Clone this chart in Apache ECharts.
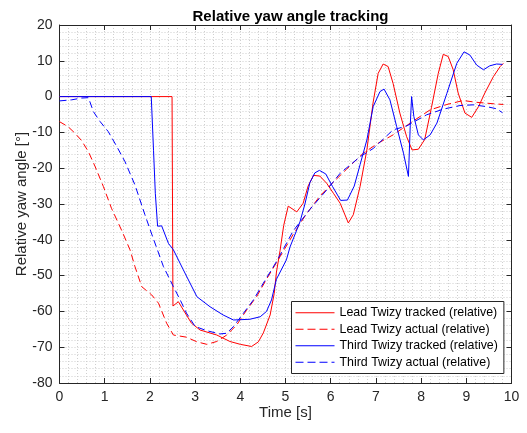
<!DOCTYPE html>
<html><head><meta charset="utf-8">
<script src="https://cdn.jsdelivr.net/npm/echarts@6/dist/echarts.min.js"></script>
<style>html,body{margin:0;padding:0;background:#fff}#c{width:527px;height:433px}</style>
</head><body><div id="c"></div>
<script>
const seriesNames = ['Lead Twizy tracked (relative)','Lead Twizy actual (relative)','Third Twizy tracked (relative)','Third Twizy actual (relative)'];

const leadTrackedT = [0,2.49,2.51,2.63,2.74,2.92,3.11,3.48,3.77,4.0,4.25,4.40,4.51,4.66,4.75,4.80,4.88,4.96,5.06,5.25,5.39,5.50,5.62,5.76,5.91,6.06,6.21,6.39,6.50,6.65,6.80,6.94,7.05,7.16,7.27,7.38,7.53,7.68,7.80,7.94,8.08,8.23,8.38,8.49,8.60,8.71,8.82,8.97,9.12,9.27,9.41,9.60,9.75,9.82];
const leadTrackedY = [0,0,-58.5,-57.3,-59.6,-63.3,-65.2,-66.6,-68.4,-69.2,-69.8,-68.5,-66,-61,-55,-49,-43,-36,-30.6,-32.2,-29.8,-25,-22,-22.2,-24.2,-27,-29.8,-35.3,-33,-25.1,-14.9,-1.5,6.5,9.1,8.4,3.7,-4.6,-11.2,-14.9,-14.7,-12,-3,6.5,11.8,11.2,7.5,1,-4.6,-5.8,-2.8,1,5.6,8.4,9.3];

const leadActualT = [0,0.19,0.34,0.49,0.64,0.79,0.97,1.15,1.38,1.56,1.67,1.82,2.04,2.19,2.37,2.52,2.81,3.04,3.26,3.48,3.70,3.92,4.14,4.36,4.58,4.88,5.17,5.45,5.76,6.05,6.35,6.72,7.05,7.38,7.83,8.20,8.57,8.93,9.23,9.60,9.82];
const leadActualY = [-7,-8.4,-10.2,-12.3,-15.4,-19.6,-25.1,-31.2,-37.5,-42.8,-47.5,-53.1,-55.4,-57.7,-63.3,-66.6,-67.2,-68.5,-69.2,-68.4,-66.6,-63.8,-59.6,-55.9,-51,-44.7,-38.5,-33,-27.8,-24,-20.3,-15.8,-13,-10.7,-6.8,-3.7,-2.2,-1.1,-1.6,-2,-2.2];

const thirdTrackedT = [0,2.03,2.08,2.12,2.17,2.26,2.41,2.52,2.74,3.04,3.33,3.62,3.85,4.21,4.44,4.58,4.69,4.80,5.02,5.10,5.32,5.43,5.54,5.65,5.75,5.89,6.04,6.22,6.37,6.52,6.65,6.80,6.94,7.09,7.18,7.31,7.46,7.61,7.72,7.76,7.79,7.84,7.94,8.05,8.20,8.35,8.57,8.79,8.95,9.08,9.23,9.38,9.52,9.67,9.80];
const thirdTrackedY = [0,0,-15,-27,-36.2,-36.1,-41,-42.8,-48.4,-55.9,-58.7,-61,-62.4,-62.2,-61.5,-60,-56.8,-51,-45.6,-42,-35,-30,-24,-21.3,-20.6,-21.6,-25.1,-29,-28.9,-25,-19,-12.1,-2.8,1.4,2.1,-0.9,-8.4,-15.8,-22.3,-8,0,-5.6,-10.7,-12.1,-10.7,-7.4,0.9,9.3,12.5,11.6,8.8,7.5,8.6,9.1,9.0];

const thirdActualT = [0,0.27,0.49,0.64,0.75,0.90,1.08,1.27,1.45,1.67,1.89,2.04,2.30,2.52,2.67,2.81,3.0,3.26,3.55,3.70,3.85,4.07,4.29,4.51,4.80,5.17,5.54,5.91,6.21,6.65,6.94,7.38,7.68,8.12,8.49,8.86,9.15,9.45,9.67,9.80];
const thirdActualY = [-1.2,-0.9,-0.4,-0.3,-4.2,-7,-9.8,-14,-18.2,-24.7,-33,-38.4,-47.5,-53.1,-56.8,-60.5,-64.2,-65.4,-66.3,-66.1,-64.2,-60.5,-56.8,-52.1,-46.1,-37.5,-31.5,-26.1,-21.4,-16.8,-14.5,-9.3,-8.2,-5.1,-3.5,-2.5,-2.3,-2.8,-3.4,-4.5];

const xTicks = {min:0, max:10, interval:1};
const yTicks = {min:-80, max:20, interval:10};

const zip = (a,b)=>a.map((v,i)=>[v,b[i]]);
const FONT = '"Liberation Sans", Arial, Helvetica, sans-serif';
const AX = '#262626';
const gridLine = {show:true, lineStyle:{color:'#cfcfcf', width:1, type:[1,2]}};

const chart = echarts.init(document.getElementById('c'), null, {renderer:'canvas'});
function valAxis(pos, rng, showLabels, name, extra){
  return Object.assign({
    type:'value', position:pos, min:rng.min, max:rng.max, interval:rng.interval,
    axisLine:{show:true, onZero:false, lineStyle:{color:AX, width:1}},
    axisTick:{show:true, inside:true, length:5, lineStyle:{color:AX}},
    axisLabel:{show:showLabels, color:AX, fontSize:14, fontFamily:FONT},
    splitLine:showLabels?gridLine:{show:false},
    minorTick:{show:false, splitNumber:5},
    minorSplitLine:showLabels?gridLine:{show:false},
    name:name||'', nameLocation:'middle', nameMoveOverlap:false,
    nameTextStyle:{color:AX, fontSize:15, fontFamily:FONT}
  }, extra||{});
}
const colors = ['#ff0000','#ff0000','#0000ff','#0000ff'];
const dashes = ['solid',[7,4],'solid',[7,4]];
const solidIcon = 'path://M0,0h39v1h-39z';
const dashIcon = 'path://M0,0h8v1h-8zM12,0h8v1h-8zM24,0h8v1h-8zM36,0h3v1h-3z';
const icons = [solidIcon, dashIcon, solidIcon, dashIcon];
const datas = [zip(leadTrackedT,leadTrackedY), zip(leadActualT,leadActualY), zip(thirdTrackedT,thirdTrackedY), zip(thirdActualT,thirdActualY)];

chart.setOption({
  backgroundColor:'#ffffff',
  animation:false,
  title:{text:'Relative yaw angle tracking', left:285.5, textAlign:'center', top:4,
    textStyle:{fontSize:15, fontWeight:'bold', color:'#000', fontFamily:FONT}},
  grid:{left:59.5, right:15.5, top:25, bottom:50, containLabel:false},
  xAxis:[
    valAxis('bottom', xTicks, true, 'Time [s]', {nameGap:22, axisLabel:{color:AX, fontSize:14, fontFamily:FONT, margin:7}}),
    valAxis('top', xTicks, false, '')
  ],
  yAxis:[
    valAxis('left', yTicks, true, 'Relative yaw angle [°]', {nameGap:30, axisLabel:{color:AX, fontSize:14, fontFamily:FONT, margin:7}}),
    valAxis('right', yTicks, false, '')
  ],
  legend:{
    orient:'vertical', left:291.5, top:301.5,
    backgroundColor:'#ffffff', borderColor:AX, borderWidth:1,
    padding:[4,6,4,4], itemGap:2, itemWidth:39, itemHeight:1,
    textStyle:{fontSize:12.4, color:'#000', fontFamily:FONT, lineHeight:14.5},
    data:seriesNames.map((n,i)=>({name:n, icon:icons[i],
      itemStyle:{color:colors[i], borderWidth:0, opacity:1}}))
  },
  series:seriesNames.map((n,i)=>({
    name:n, type:'line', data:datas[i], symbol:'none', showSymbol:false,
    xAxisIndex:0, yAxisIndex:0,
    lineStyle:{color:colors[i], width:1, type:dashes[i]},
    itemStyle:{color:colors[i]}, z:2+i
  }))
});
</script></body></html>
